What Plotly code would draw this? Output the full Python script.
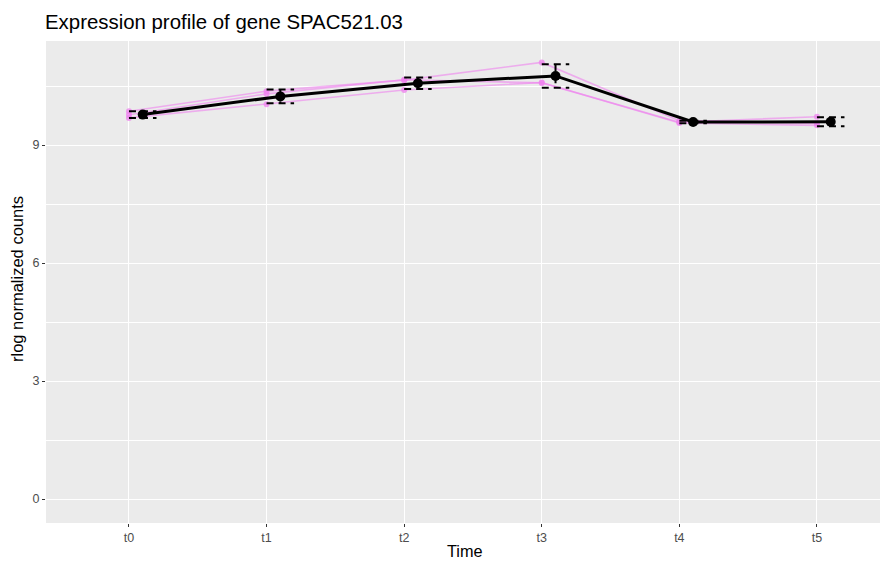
import numpy as np
import plotly.graph_objects as go

# rlog normalized counts
times = ["t0", "t1", "t2", "t3", "t4", "t5"]
rep_a = [9.86, 10.37, 10.65, 11.10, 9.62, 9.55]
rep_b = [9.69, 10.04, 10.40, 10.59, 9.56, 9.50]
rep_c = [9.77, 10.30, 10.66, 10.58, 9.58, 9.72]
replicates = [rep_a, rep_b, rep_c]

x = np.arange(len(times))
reps = np.array(replicates)
mean = reps.mean(axis=0)
sd = reps.std(axis=0, ddof=1)
dodge = 0.1
cap = 0.1

# the page body has an 8px margin, so the figure is shrunk and shifted by it
OFF = 8
W, H = 888 - OFF, 561 - OFF
L, R, T, B = 46 - OFF, 5, 41 - OFF, 38

fig = go.Figure()

# replicate profiles
for r in replicates:
    fig.add_trace(go.Scatter(
        x=x, y=r, mode="lines+markers",
        line=dict(color="rgba(238,130,238,0.6)", width=1.6),
        marker=dict(color="rgba(238,130,238,0.75)", size=6),
        showlegend=False, hoverinfo="skip"))

# mean profile
fig.add_trace(go.Scatter(
    x=x + dodge, y=mean, mode="lines",
    line=dict(color="black", width=3),
    showlegend=False))

# dashed error bars (mean +/- sd)
ex, ey = [], []
for xi, m, s in zip(x + dodge, mean, sd):
    ex += [xi - cap, xi + cap, None, xi, xi, None, xi - cap, xi + cap, None]
    ey += [m + s, m + s, None, m + s, m - s, None, m - s, m - s, None]
fig.add_trace(go.Scatter(
    x=ex, y=ey, mode="lines",
    line=dict(color="black", width=2, dash="7px,5px"),
    showlegend=False, hoverinfo="skip"))

fig.add_trace(go.Scatter(
    x=x + dodge, y=mean, mode="markers",
    marker=dict(color="black", size=10),
    showlegend=False))

fig.update_xaxes(
    range=[-0.603, 5.48], tickvals=x, ticktext=times, automargin=False,
    showgrid=True, gridcolor="white", gridwidth=1.1, zeroline=False,
    ticks="outside", ticklen=3, tickcolor="#333333",
    tickfont=dict(size=12.5, color="#4D4D4D"))
fig.update_yaxes(
    range=[-0.61, 11.645], tickvals=[0, 3, 6, 9], automargin=False,
    showgrid=True, gridcolor="white", gridwidth=1.1, zeroline=False,
    minor=dict(tickvals=[1.5, 4.5, 7.5, 10.5], showgrid=True,
               gridcolor="white", gridwidth=0.5),
    ticks="outside", ticklen=3, tickcolor="#333333",
    tickfont=dict(size=12.5, color="#4D4D4D"))

fig.add_annotation(text="Time", xref="paper", yref="paper",
                   x=0.5, y=-(551 - OFF - (H - B)) / (H - T - B),
                   xanchor="center", yanchor="middle", showarrow=False,
                   font=dict(size=16.3, color="black"))
fig.add_annotation(text="rlog normalized counts", xref="paper", yref="paper",
                   x=-(L - (17 - OFF)) / (W - L - R), y=0.5 + 3 / (H - T - B),
                   xanchor="center", yanchor="middle", textangle=-90,
                   showarrow=False, font=dict(size=16.5, color="black"))

fig.update_layout(
    width=W, height=H,
    font=dict(family="Liberation Sans, Arial, sans-serif"),
    title=dict(text="Expression profile of gene SPAC521.03",
               x=(45 - OFF) / W, xanchor="left", y=1 - (22 - OFF) / H, yanchor="middle",
               font=dict(size=20.4, color="black")),
    plot_bgcolor="#EBEBEB", paper_bgcolor="white",
    margin=dict(l=L, r=R, t=T, b=B),
    showlegend=False)

fig.write_html("out.html")
